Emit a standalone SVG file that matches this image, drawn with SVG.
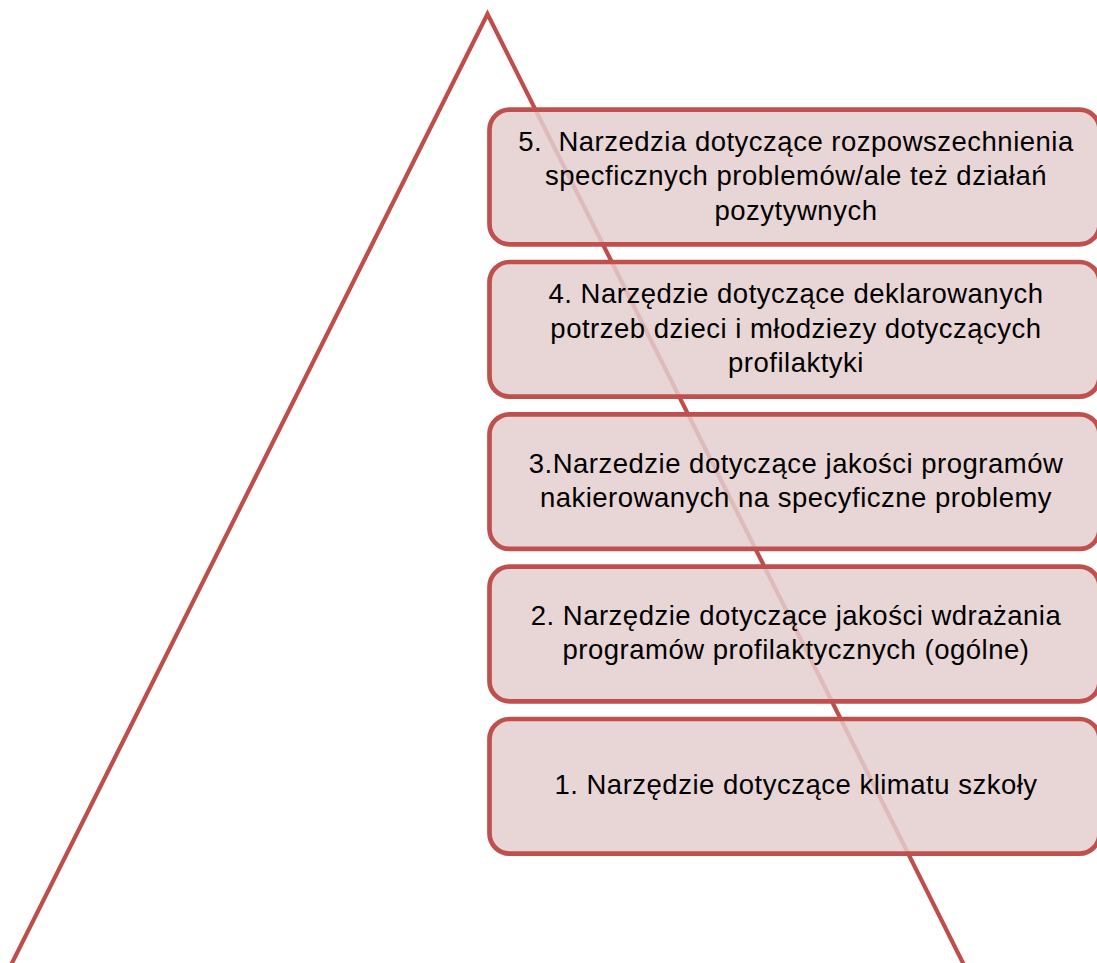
<svg xmlns="http://www.w3.org/2000/svg" width="1097" height="963" viewBox="0 0 1097 963">
  <style>
    .tri { fill: none; stroke: #BF4D4A; stroke-width: 4.2; stroke-linejoin: miter; }
    .box { fill: #E4CECE; fill-opacity: 0.85; stroke: #C0504D; stroke-width: 4.7; }
    .lbl { font-family: "Liberation Sans", Arial, sans-serif; font-size: 27.5px; fill: #000000; text-anchor: middle; letter-spacing: 0.5px; white-space: pre; }
  </style>
  <rect x="0" y="0" width="1097" height="963" fill="#FFFFFF"/>
  <g id="pyramid">
    <polygon class="tri" points="487.5,14 1,985 974,985"/>
  </g>
  <g id="level5">
    <rect class="box" x="489.5" y="109.7" width="610" height="134.6" rx="20" ry="20"/>
    <text class="lbl" x="796" y="151" xml:space="preserve">5.  Narzedzia dotyczące rozpowszechnienia</text>
    <text class="lbl" x="796" y="185.3">specficznych problemów/ale też działań</text>
    <text class="lbl" x="796" y="219.6">pozytywnych</text>
  </g>
  <g id="level4">
    <rect class="box" x="489.5" y="262" width="610" height="134.6" rx="20" ry="20"/>
    <text class="lbl" x="796" y="303.3">4. Narzędzie dotyczące deklarowanych</text>
    <text class="lbl" x="796" y="337.6">potrzeb dzieci i młodziezy dotyczących</text>
    <text class="lbl" x="796" y="371.9">profilaktyki</text>
  </g>
  <g id="level3">
    <rect class="box" x="489.5" y="414.3" width="610" height="134.6" rx="20" ry="20"/>
    <text class="lbl" x="796" y="473">3.Narzedzie dotyczące jakości programów</text>
    <text class="lbl" x="796" y="507">nakierowanych na specyficzne problemy</text>
  </g>
  <g id="level2">
    <rect class="box" x="489.5" y="566.7" width="610" height="134.6" rx="20" ry="20"/>
    <text class="lbl" x="796" y="625">2. Narzędzie dotyczące jakości wdrażania</text>
    <text class="lbl" x="796" y="659">programów profilaktycznych (ogólne)</text>
  </g>
  <g id="level1">
    <rect class="box" x="489.5" y="719" width="610" height="134.6" rx="20" ry="20"/>
    <text class="lbl" x="796" y="793.5">1. Narzędzie dotyczące klimatu szkoły</text>
  </g>
  <g id="connectors"></g>
</svg>
